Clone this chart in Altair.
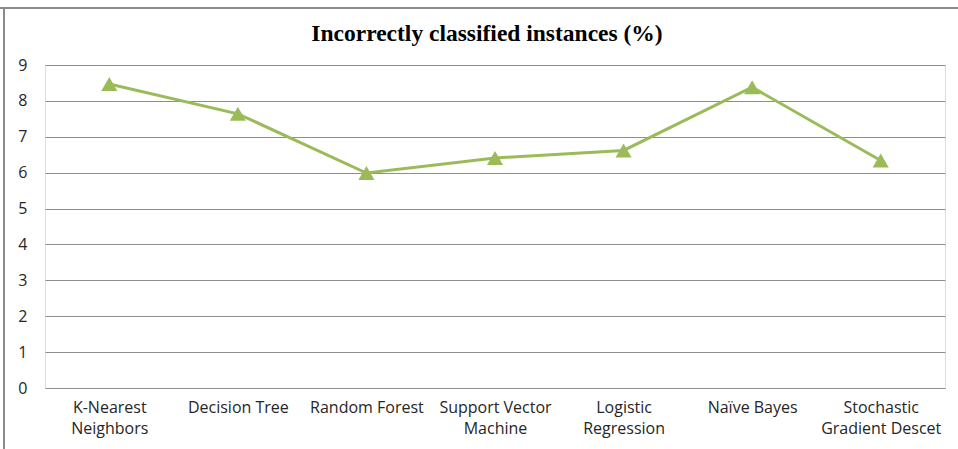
import altair as alt
import pandas as pd

# Misclassification rate per classifier
classifiers = [
    "K-Nearest\nNeighbors",
    "Decision Tree",
    "Random Forest",
    "Support Vector\nMachine",
    "Logistic\nRegression",
    "Naïve Bayes",
    "Stochastic\nGradient Descet",
]
error_pct = [8.47, 7.64, 5.99, 6.41, 6.62, 8.38, 6.34]
chart_title = ["Incorrectly classified instances (%)"]

df = pd.DataFrame({"classifier": classifiers, "error": error_pct})
title_df = pd.DataFrame({"title": chart_title})

GREEN = "#9BBB59"
GRID = "#8E8E8E"
LABEL_FONT = "Open Sans"

x_enc = alt.X(
    "classifier:N",
    sort=classifiers,
    scale=alt.Scale(type="point", padding=0.5),
    axis=alt.Axis(
        title=None,
        labelAngle=0,
        labelExpr="split(datum.label, '\\n')",
        labelFont=LABEL_FONT,
        labelFontSize=16,
        labelColor="#262626",
        labelPadding=11,
        labelLineHeight=21,
        ticks=False,
        domain=False,
        grid=False,
    ),
)
y_enc = alt.Y(
    "error:Q",
    scale=alt.Scale(domain=[0, 9], nice=False),
    axis=alt.Axis(
        title=None,
        values=list(range(10)),
        labelFont=LABEL_FONT,
        labelFontSize=16,
        labelColor="#262626",
        labelPadding=18,
        ticks=False,
        domain=False,
        grid=True,
        gridColor=GRID,
        gridWidth=1,
    ),
)

base = alt.Chart(df).encode(x=x_enc, y=y_enc)

line = base.mark_line(color=GREEN, strokeWidth=3)
points = base.mark_point(
    shape="triangle-up", filled=True, color=GREEN, opacity=1, size=260
)

# Outer frame: top and left border of the figure
frame_top = alt.Chart(df).mark_rule(color="#8C8C8C", strokeWidth=2).encode(
    x=alt.value(-45), x2=alt.value(915), y=alt.value(-57)
)
frame_left = alt.Chart(df).mark_rule(color="#8C8C8C", strokeWidth=2).encode(
    x=alt.value(-41), y=alt.value(-57), y2=alt.value(390)
)

# Chart heading, set inside the frame above the plot
heading = alt.Chart(title_df).mark_text(
    font="Liberation Serif",
    fontSize=23.5,
    fontWeight="bold",
    color="#000000",
    align="center",
    baseline="middle",
).encode(text="title:N", x=alt.value(442), y=alt.value(-31))

chart = (
    alt.layer(frame_top, frame_left, heading, line, points)
    .properties(
        width=900,
        height=323,
        autosize=alt.AutoSizeParams(type="none"),
        padding={"left": 45, "top": 65, "right": 13, "bottom": 61},
    )
    .configure_view(stroke=None)
    .configure(background="white")
)

chart.save("out.html", embed_options={"renderer": "svg", "actions": False})
